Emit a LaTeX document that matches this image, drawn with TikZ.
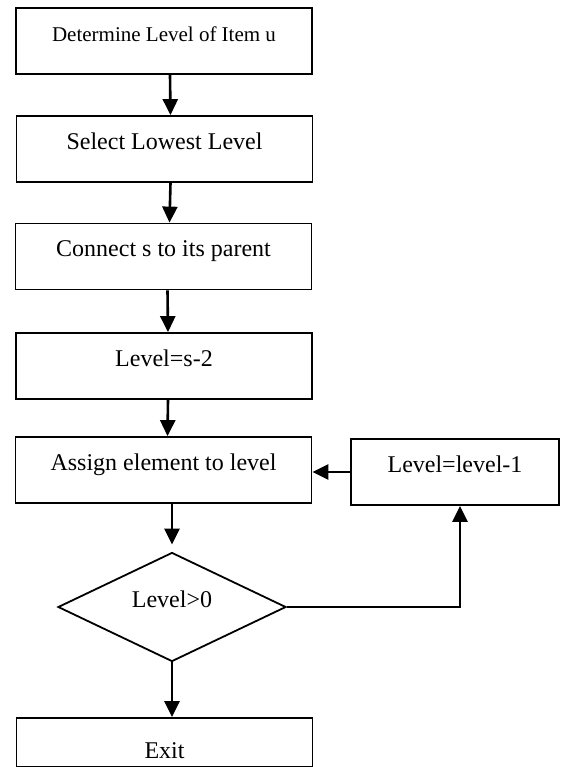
\documentclass[tikz,border=0pt]{standalone}
\usepackage{fontspec}
\setmainfont{Liberation Serif}
\usepackage{tikz}
\usetikzlibrary{positioning}
\usetikzlibrary{shapes.geometric,arrows.meta}
\tikzset{
	flowbox/.style = {shape=rectangle, 
		draw, line width=0.9pt, align=center, inner sep=0pt,
		minimum width=148pt, text height=16.5pt, text depth=16.5pt,
		font=\fontsize{12}{14}\selectfont},
	decision/.style = {flowbox, shape=diamond,
		minimum width=114pt, minimum height=54.5pt,
		text height=0pt, text depth=0pt},
	flow/.style     = {draw, line width=1.3pt, -{Triangle[length=8pt,width=7.5pt]}}
}

\begin{document}
\begin{tikzpicture}[x=0.5pt, y=-0.5pt]
\useasboundingbox (0,0) rectangle (563,767);
% boxes
\node [flowbox, font=\fontsize{10.5}{12}\selectfont] (det) at (164,41) {Determine Level of Item u};
\node [flowbox] (sel) at (164.5,149) {Select Lowest Level};
\node [flowbox] (con) at (163.5,256.5) {Connect s to its parent};
\node [flowbox] (lev) at (164,366) {Level=s-2};
\node [flowbox] (asg) at (163.5,470) {Assign element to level};
\node [flowbox, minimum width=104pt] (dec) at (455,472) {Level=level-1};
\node [decision] (chk) at (172,607) {Level>0};
\node [flowbox, anchor=north, text height=20.5pt, text depth=4pt] (ext) at (164.5,717) {Exit};
% arrows
\draw [flow] ([xshift=3pt]det.south) -- ([xshift=3pt]sel.north);
\draw [flow] ([xshift=3pt]sel.south) -- ([xshift=3pt]con.north);
\draw [flow] ([xshift=2pt]con.south) -- ([xshift=2pt]lev.north);
\draw [flow] ([xshift=2pt]lev.south) -- ([xshift=2pt]asg.north);
\draw [flow, shorten >=3.5pt] (asg.south -| chk.north) -- (chk.north);
\draw [flow] (chk.south) -- (chk.south |- ext.north);
\draw [flow] (chk.east) -| ([xshift=2.5pt]dec.south);
\draw [flow] (dec.west) -- (asg.east |- dec.west);
\end{tikzpicture}
\end{document}
